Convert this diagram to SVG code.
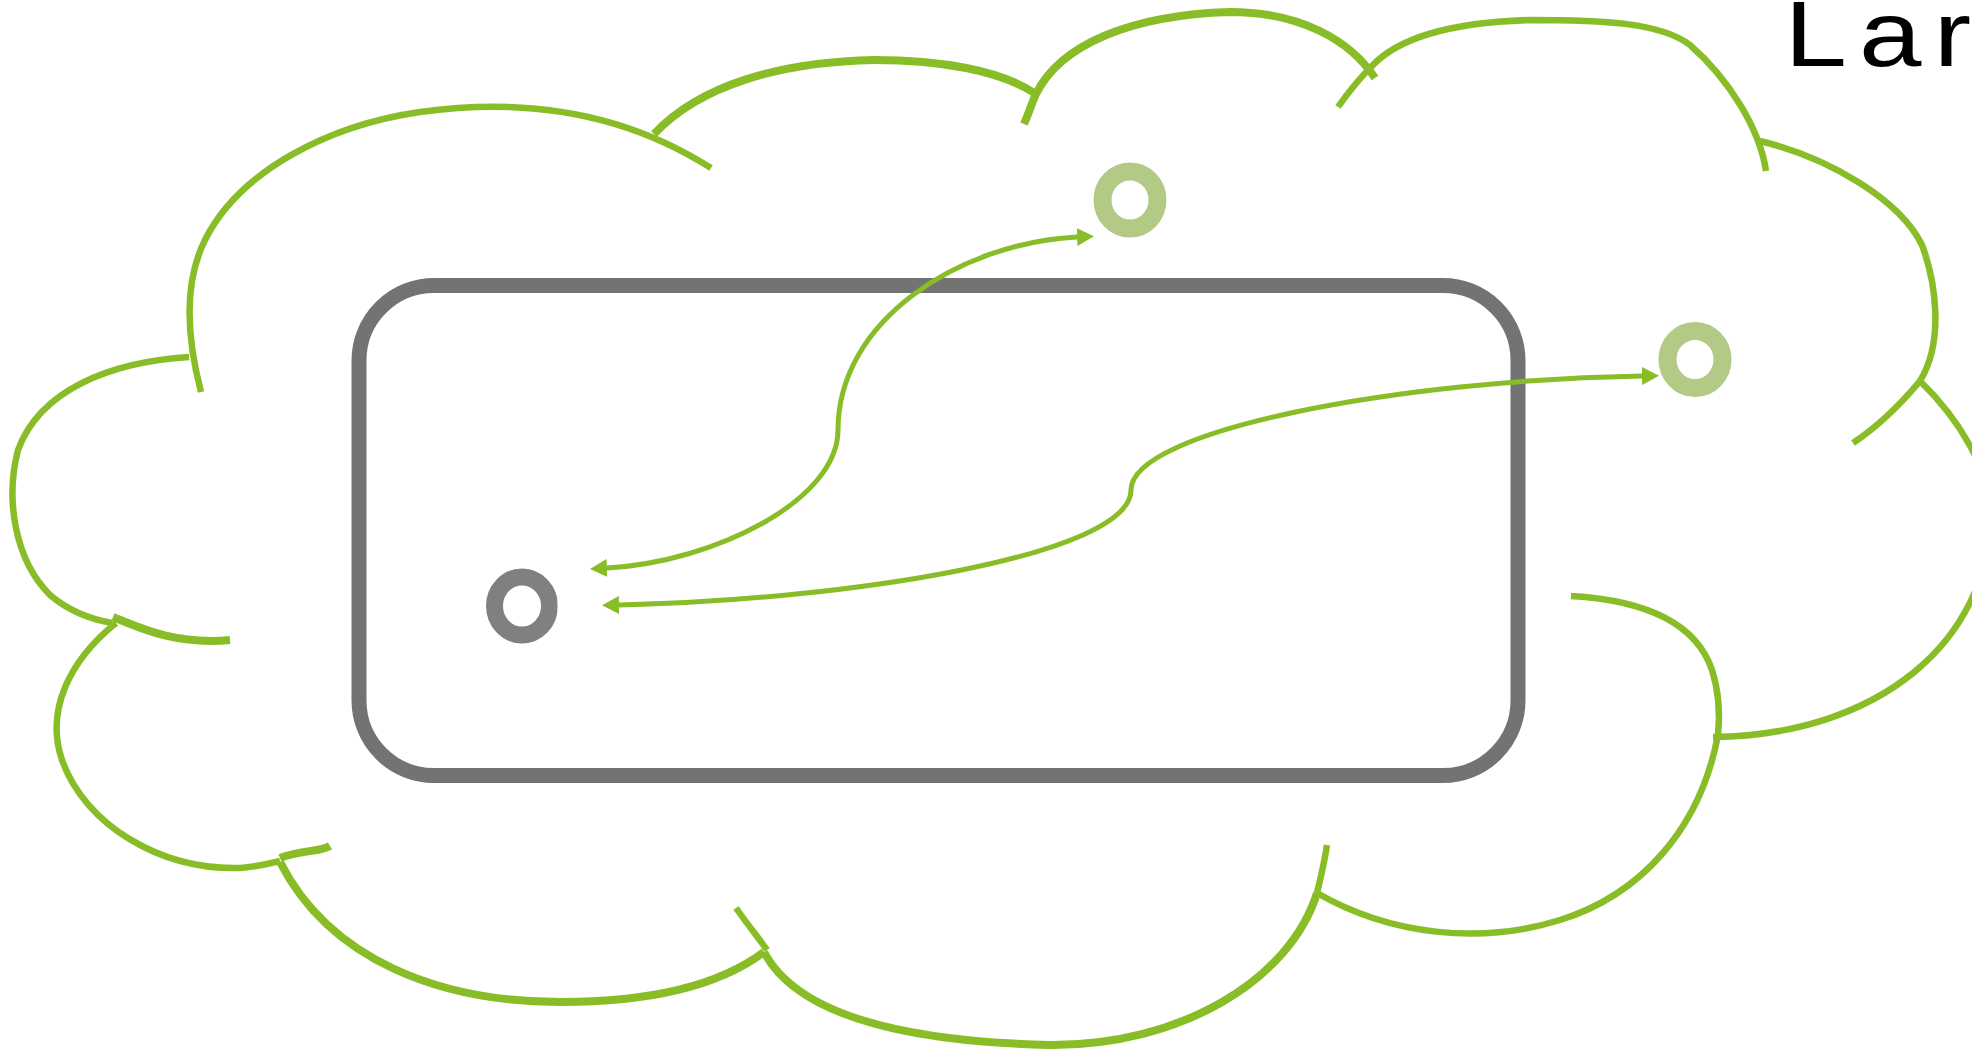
<svg xmlns="http://www.w3.org/2000/svg" width="1972" height="1052" viewBox="0 0 1972 1052">
<style>
.cloud{fill:none;stroke:#88bd27;stroke-width:6.5;stroke-linecap:butt;stroke-linejoin:round}
.thick{stroke-width:8}
.conn{fill:none;stroke:#88bd27;stroke-width:5}
.ring{fill:none;stroke:#b2ca86;stroke-width:18}
.gring{fill:none;stroke:#808080;stroke-width:17}
.box{fill:none;stroke:#737373;stroke-width:15}
.label{font-family:"Liberation Sans",Arial,sans-serif;font-size:92px;fill:#000}
</style>
<defs>
<marker id="ah" markerUnits="userSpaceOnUse" markerWidth="18" markerHeight="20" viewBox="0 -10 18 20" refX="0" refY="0" orient="auto-start-reverse">
<path d="M0,-9 L17,0 L0,9 Z" fill="#88bd27"/>
</marker>
<clipPath id="gclip"><rect x="470" y="550" width="87.5" height="120"/></clipPath>
</defs>
<rect width="1972" height="1052" fill="#fff"/>
<g id="cloud">
<path class="cloud" d="M189,357 C110,362 40,390 18,450 C5,500 15,560 50,595 C70,612 95,620 112,623"/>
<path class="cloud thick" d="M113,617 C140,628 175,645 230,640"/>
<path class="cloud" d="M116,623 C70,660 45,710 62,760 C85,825 160,870 240,868 C255,867 268,864 280,861"/>
<path class="cloud thick" d="M280,858 C300,850 320,852 330,846"/>
<path class="cloud thick" d="M280,862 C330,960 440,1002 560,1002 C650,1002 720,985 764,952"/>
<path class="cloud" d="M736,908 C748,925 760,940 767,950"/>
<path class="cloud thick" d="M764,952 C800,1020 920,1042 1050,1045 C1180,1046 1290,980 1317,893"/>
<path class="cloud" d="M1327,845 C1324,865 1320,880 1317,893"/>
<path class="cloud" d="M1317,893 C1390,935 1480,945 1560,920 C1640,895 1700,830 1718,735"/>
<path class="cloud" d="M1571,596 C1640,600 1695,620 1712,670 C1720,695 1720,715 1718,735"/>
<path class="cloud" d="M1920,381 C1960,420 1990,470 1990,515 C1990,640 1880,735 1713,737"/>
<path class="cloud" d="M1920,381 C1900,405 1880,425 1853,443"/>
<path class="cloud" d="M1760,141 C1830,158 1900,200 1922,245 C1935,280 1945,340 1920,381"/>
<path class="cloud" d="M1338,107 C1350,90 1360,78 1371,67 C1400,35 1460,22 1530,20 C1600,20 1660,22 1690,45 C1730,80 1760,130 1766,171"/>
<path class="cloud thick" d="M1024,124 C1030,110 1033,100 1036,94 C1060,45 1130,15 1230,12 C1300,12 1350,40 1375,78"/>
<path class="cloud thick" d="M654,134 C700,85 780,62 874,60 C940,60 1000,70 1036,94"/>
<path class="cloud" d="M201,392 C190,350 180,290 205,240 C240,170 330,125 420,112 C520,98 620,110 711,168"/>
</g>
<g id="container">
<rect class="box" x="359" y="285.5" width="1159" height="490" rx="75" ry="75"/>
</g>
<g id="node-top">
<ellipse class="ring" cx="1130" cy="200" rx="27.5" ry="28.5"/>
</g>
<g id="node-right">
<ellipse class="ring" cx="1695" cy="359.5" rx="27.5" ry="28.5"/>
</g>
<g id="node-grey">
<ellipse class="gring" cx="522" cy="606" rx="27.5" ry="29" clip-path="url(#gclip)"/>
</g>
<g id="connectors">
<path class="conn" marker-start="url(#ah)" marker-end="url(#ah)" d="M1077,237 C960,243 838,320 838,430 C838,500 715,562 607,568"/>
<path class="conn" marker-start="url(#ah)" marker-end="url(#ah)" d="M1642,376 C1400,380 1131,430 1131,490 C1131,555 850,600 619,605"/>
</g>
<g id="label">
<text class="label" transform="translate(1793,66) scale(1.22,1)" x="-7" y="0" letter-spacing="10">Lar</text>
</g>
</svg>
